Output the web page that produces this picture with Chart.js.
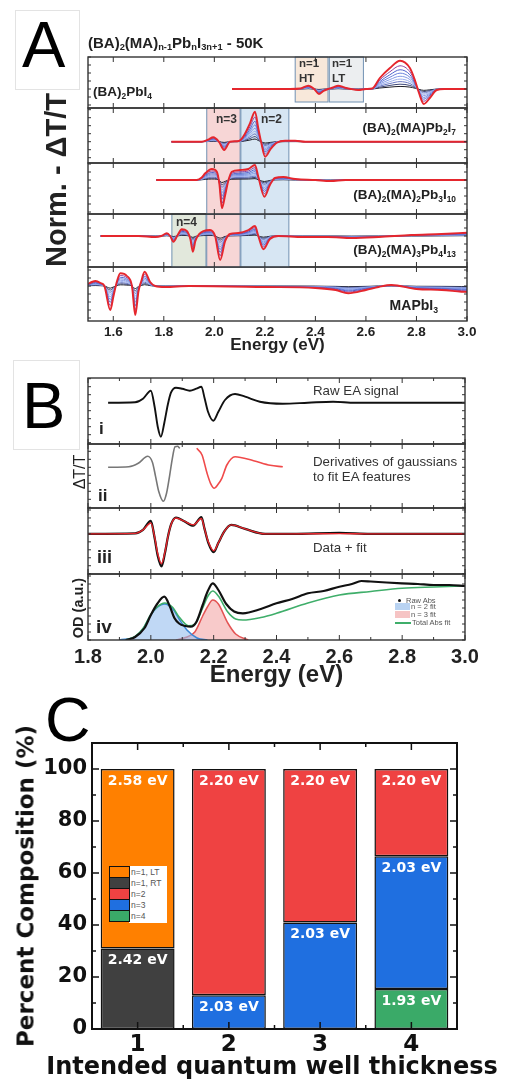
<!DOCTYPE html>
<html>
<head>
<meta charset="utf-8">
<script src="https://cdn.jsdelivr.net/npm/chart.js@4.4.1/dist/chart.umd.min.js"></script>
<style>
  body { margin: 0; background: #fff; }
  #fig { position: relative; width: 506px; height: 1079px; overflow: hidden; font-family: "Liberation Sans", Arial, sans-serif; color: #222; }
  #fig canvas { position: absolute; z-index: 0; }
  .t { position: absolute; z-index: 2; white-space: nowrap; line-height: 1; transform: translateY(-50%); }
  .r { transform: translate(-50%, -50%) rotate(-90deg); }
  .c { transform: translate(-50%, -50%); }
  .t sub { font-size: 62%; vertical-align: -0.3em; line-height: 0; }
  .b { font-weight: bold; }
  .dv { font-family: "DejaVu Sans", sans-serif; font-weight: bold; color: #111; }
  .box { position: absolute; z-index: 1; border: 1px solid #e3e3e3; background: #fff; }
  .letter { position: absolute; z-index: 2; line-height: 1; font-size: 65px; color: #000; }
  .sw { position: absolute; z-index: 3; box-sizing: border-box; }
</style>
</head>
<body>
<div id="fig">
  <div class="box" style="left:15px;top:10px;width:63px;height:78px"></div>
  <div class="letter" style="left:22px;top:12px">A</div>
  <div class="box" style="left:13px;top:360px;width:65px;height:88px"></div>
  <div class="letter" style="left:22px;top:373px">B</div>
  <div class="letter" style="left:45px;top:688px;font-size:63px">C</div>

  <!-- panel A text -->
  <div class="t b" style="left:88px;top:42px;font-size:15px">(BA)<sub>2</sub>(MA)<sub>n-1</sub>Pb<sub>n</sub>I<sub>3n+1</sub> - 50K</div>
  <div class="t b r" style="left:56px;top:180px;font-size:29px">Norm. - ΔT/T</div>
  <div class="t b" style="left:93px;top:92px;font-size:13.5px">(BA)<sub>2</sub>PbI<sub>4</sub></div>
  <div class="t b" style="right:50px;top:128px;font-size:13.5px">(BA)<sub>2</sub>(MA)Pb<sub>2</sub>I<sub>7</sub></div>
  <div class="t b" style="right:50px;top:195px;font-size:13.5px">(BA)<sub>2</sub>(MA)<sub>2</sub>Pb<sub>3</sub>I<sub>10</sub></div>
  <div class="t b" style="right:50px;top:250px;font-size:13.5px">(BA)<sub>2</sub>(MA)<sub>3</sub>Pb<sub>4</sub>I<sub>13</sub></div>
  <div class="t b" style="right:68px;top:305px;font-size:14px">MAPbI<sub>3</sub></div>
  <div class="t b" style="left:299px;top:64px;font-size:11.5px;color:#333">n=1</div>
  <div class="t b" style="left:299px;top:79px;font-size:11.5px;color:#333">HT</div>
  <div class="t b" style="left:332px;top:64px;font-size:11.5px;color:#333">n=1</div>
  <div class="t b" style="left:332px;top:79px;font-size:11.5px;color:#333">LT</div>
  <div class="t b" style="left:216px;top:119px;font-size:12px;color:#333">n=3</div>
  <div class="t b" style="left:261px;top:119px;font-size:12px;color:#333">n=2</div>
  <div class="t b" style="left:176px;top:222px;font-size:12px;color:#333">n=4</div>

  <!-- panel B text -->
  <div class="t" style="left:313px;top:391px;font-size:13.3px;color:#333">Raw EA signal</div>
  <div class="t" style="left:313px;top:462px;font-size:13.3px;color:#333">Derivatives of gaussians</div>
  <div class="t" style="left:313px;top:477px;font-size:13.3px;color:#333">to fit EA features</div>
  <div class="t" style="left:313px;top:548px;font-size:13.3px;color:#333">Data + fit</div>
  <div class="t b" style="left:99px;top:428px;font-size:17px">i</div>
  <div class="t b" style="left:98px;top:495px;font-size:17px">ii</div>
  <div class="t b" style="left:97px;top:557px;font-size:18px">iii</div>
  <div class="t b" style="left:96px;top:626px;font-size:19px">iv</div>
  <div class="t r" style="left:80px;top:472px;font-size:16px">ΔT/T</div>
  <div class="t b r" style="left:78px;top:608px;font-size:14.5px">OD (a.u.)</div>

  <!-- panel B iv legend -->
  <div class="sw" style="left:392px;top:595px;width:63px;height:31px;background:#fff;z-index:1"></div>
  <div class="sw" style="left:398px;top:599px;width:3px;height:3px;border-radius:50%;background:#111"></div>
  <div class="sw" style="left:395px;top:603px;width:15px;height:7px;background:#b9d3f2"></div>
  <div class="sw" style="left:395px;top:611px;width:15px;height:7px;background:#f6c4c4"></div>
  <div class="sw" style="left:395px;top:622px;width:16px;height:1.5px;background:#3fae6a"></div>
  <div class="t" style="left:406px;top:600.5px;font-size:7.5px;color:#555">Raw Abs</div>
  <div class="t" style="left:411px;top:607px;font-size:7.5px;color:#555">n = 2 fit</div>
  <div class="t" style="left:411px;top:614.5px;font-size:7.5px;color:#555">n = 3 fit</div>
  <div class="t" style="left:412px;top:622.5px;font-size:7.5px;color:#555">Total Abs fit</div>

  <!-- panel C titles and legend -->
  <div class="t dv r" style="left:26px;top:886px;font-size:23px">Percent Composition (%)</div>
  <div class="t dv c" style="left:272px;top:1066px;font-size:24px">Intended quantum well thickness</div>
  <div class="sw" style="left:129px;top:866px;width:38px;height:57px;background:#fff"></div>
  <div class="sw" style="left:109px;top:866px;width:21px;height:12px;border:1.5px solid #111;background:#ff8000"></div>
  <div class="sw" style="left:109px;top:877px;width:21px;height:12px;border:1.5px solid #111;background:#404040"></div>
  <div class="sw" style="left:109px;top:888px;width:21px;height:12px;border:1.5px solid #111;background:#ef4242"></div>
  <div class="sw" style="left:109px;top:899px;width:21px;height:12px;border:1.5px solid #111;background:#1f6fe0"></div>
  <div class="sw" style="left:109px;top:910px;width:21px;height:12px;border:1.5px solid #111;background:#3aaa68"></div>
  <div class="t" style="left:131px;top:872px;font-size:8.5px;color:#555;z-index:4">n=1, LT</div>
  <div class="t" style="left:131px;top:883px;font-size:8.5px;color:#555;z-index:4">n=1, RT</div>
  <div class="t" style="left:131px;top:894px;font-size:8.5px;color:#555;z-index:4">n=2</div>
  <div class="t" style="left:131px;top:905px;font-size:8.5px;color:#555;z-index:4">n=3</div>
  <div class="t" style="left:131px;top:916px;font-size:8.5px;color:#555;z-index:4">n=4</div>
</div>

<script>
// ---- A: electroabsorption spectra at 50 K, one row per sample ----
const ticksA = [1.6, 1.8, 2.0, 2.2, 2.4, 2.6, 2.8, 3.0];

const ePbI4 = [2.07, 2.30, 2.34, 2.372, 2.395, 2.414, 2.432, 2.45, 2.47, 2.49, 2.515, 2.54, 2.57, 2.60, 2.625, 2.655, 2.695, 2.735, 2.774, 2.795, 2.81, 2.829, 2.853, 2.88, 2.91, 3.0];
const sPbI4 = [0, 0, 0.5, 3.3, 0, -5, -2, 0, 1.5, 3.3, 1.5, 0, -1, 0, 0.5, 11, 21, 28.3, 21, 8, -4, -15, -9, -1, 0, 0];

const eN2 = [1.83, 1.95, 1.975, 1.996, 2.018, 2.039, 2.062, 2.09, 2.105, 2.12, 2.141, 2.161, 2.174, 2.185, 2.201, 2.223, 2.247, 2.28, 2.32, 2.36, 2.5, 2.7, 3.0];
const sN2 = [0, 0, 2, 4.4, 0, -8.3, 0, 0.5, 2, 7.5, 18.4, 30, 13.4, 0, -15, -7.3, -1, 1, 1, 0, 0, 0, 0];

const eN3 = [1.77, 1.93, 1.95, 1.964, 1.99, 2.01, 2.02, 2.03, 2.043, 2.056, 2.069, 2.102, 2.135, 2.161, 2.174, 2.198, 2.22, 2.24, 2.273, 2.32, 2.4, 2.46, 2.52, 2.7, 3.0];
const sN3 = [0, 0, 2.5, 6.7, 11, 8.3, -4, -28.3, -15, 0, 8.3, 10, 11, 15, 3.3, -16.7, -5, 2, 3, 1, 0, -1, 0, 0, 0];

const eN4 = [1.55, 1.70, 1.766, 1.79, 1.812, 1.825, 1.838, 1.855, 1.871, 1.891, 1.905, 1.915, 1.925, 1.94, 1.957, 1.983, 2.003, 2.023, 2.043, 2.062, 2.095, 2.135, 2.161, 2.174, 2.194, 2.22, 2.253, 2.35, 2.45, 2.544, 2.65, 2.78, 2.9, 3.0];
const sN4 = [0, 0, -1, 0, 2.7, 0, -5.7, 1, 6.7, 5, -3, -15.7, -5, 2, 5, 6, 0, -24, -5, 2, 3, 6, 10, 0, -13.3, -3, 0, -1, -1, -2, -1, 1, 2, 3.3];

const eMA = [1.50, 1.515, 1.53, 1.55, 1.565, 1.588, 1.601, 1.615, 1.628, 1.654, 1.674, 1.687, 1.70, 1.711, 1.724, 1.746, 1.766, 1.806, 1.9, 2.2, 2.4, 2.48, 2.53, 2.6, 2.65, 2.7, 2.8, 2.9, 2.978, 3.0];
const sMA = [2, 4, 5, 3, 0, -24, -10, 5, 12.7, 10, 0, -29, -5, 5, 14.3, 4, 0, -1, 0, -1, -2, -4, -7.3, -4, -1, 1, -3, -4, -5.7, -6];

// relative signal at each applied field, highest field first
const fieldScale = [1, 0.82, 0.68, 0.56, 0.45, 0.35, 0.26, 0.17, 0.09];
const fieldColors = ['#e5262d', '#8e45a0', '#5063cc', '#6a82dc', '#859ae6', '#9db0ee', '#6675c0', '#3e4778', '#1e1e26'];

// shaded exciton windows (eV)
const bandHT = [2.32, 2.45];
const bandLT = [2.455, 2.59];
const bandN4 = [1.832, 1.967];
const bandN3 = [1.97, 2.102];
const bandN2 = [2.105, 2.295];

// ---- B: fitting procedure for the n = 3 film ----
const ticksB = [1.8, 2.0, 2.2, 2.4, 2.6, 2.8, 3.0];

const eRaw = [1.864, 1.95, 1.975, 2.0, 2.012, 2.022, 2.032, 2.043, 2.054, 2.064, 2.08, 2.10, 2.124, 2.145, 2.161, 2.171, 2.182, 2.199, 2.215, 2.236, 2.268, 2.30, 2.347, 2.42, 2.5, 2.58, 2.65, 2.75, 3.0];
const sRaw = [0, 0.5, 4, 12, -4, -24, -34, -20, -2, 10, 15, 14, 12, 14, 16, 4.7, -9, -18, -9, 2.7, 8.7, 6, 1, -1, 0, 1, 0, 0, 0];

const eDgN3 = [1.864, 1.93, 1.96, 1.99, 2.005, 2.015, 2.025, 2.04, 2.05, 2.06, 2.068, 2.077, 2.085, 2.092];
const sDgN3 = [0, 0.5, 4, 11, 5, -9, -24, -34, -26, -8, 8, 20.6, 21, 19];
const eDgN2 = [2.146, 2.163, 2.179, 2.19, 2.202, 2.214, 2.226, 2.242, 2.268, 2.327, 2.38, 2.42];
const sDgN2 = [19, 12.3, -6, -16, -21, -17, -11, 2.3, 10.6, 6.6, 2, 0.5];

const eFit = [1.80, 1.95, 1.975, 2.0, 2.012, 2.022, 2.034, 2.045, 2.055, 2.065, 2.08, 2.105, 2.135, 2.161, 2.171, 2.183, 2.2, 2.215, 2.235, 2.256, 2.3, 2.364, 2.45, 2.6, 2.7, 3.0];
const sData = [0, 0.5, 4, 13, -4, -22, -32.7, -19, -2, 10, 16.3, 13, 8.3, 16.7, 5, -9, -18.3, -9, 3, 9, 5, 0, 0, 1, 0, 0];
const sFit = [0, 0.5, 4, 11, -3, -20, -30, -18, -2, 10, 16, 13, 9, 15.5, 5, -8, -17, -9, 3, 9, 5, 0, 0, 0.3, 0, 0];

const eAbs = [1.92, 1.95, 1.98, 2.0, 2.02, 2.043, 2.06, 2.075, 2.09, 2.11, 2.127, 2.145, 2.165, 2.18, 2.197, 2.215, 2.24, 2.265, 2.293, 2.35, 2.4, 2.45, 2.5, 2.55, 2.6, 2.64, 2.67, 2.7, 2.75, 2.8, 2.85, 2.9, 2.95, 3.0];
const odAbs = [0, 3, 12, 25, 36, 43.3, 34, 22, 16.5, 14, 13.3, 18, 35, 48, 56.7, 50, 36, 28.5, 26.7, 31, 36.7, 41, 46.7, 49, 53.3, 56, 59, 58.5, 57.5, 56.7, 56, 55, 55, 54];
const eG2 = [1.90, 1.95, 1.975, 2.0, 2.02, 2.044, 2.07, 2.09, 2.115, 2.147, 2.18];
const odG2 = [0, 3.3, 11, 25, 32.5, 36, 31, 21, 10, 2, 0];
const eG3 = [2.08, 2.11, 2.14, 2.165, 2.18, 2.197, 2.215, 2.245, 2.27, 2.31];
const odG3 = [0, 2.5, 8, 24, 33, 40, 36, 17, 6, 0];
const eTot = [1.92, 1.95, 1.975, 2.0, 2.02, 2.044, 2.07, 2.09, 2.12, 2.14, 2.165, 2.18, 2.197, 2.215, 2.245, 2.27, 2.293, 2.35, 2.4, 2.5, 2.6, 2.7, 2.8, 2.9, 3.0];
const odTot = [0, 3.5, 11.5, 25.5, 33, 37, 32.5, 23, 14.3, 16, 32, 43, 49, 44, 28, 21, 20, 22.5, 26.7, 37, 45, 48.5, 51.7, 53, 54];

// ---- C: phase composition per film ----
const wells = ['1', '2', '3', '4'];
const percentTicks = [0, 20, 40, 60, 80, 100];
const shareRT = [31, 0, 0, 0];
const shareN4 = [0, 0, 0, 15.4];
const shareN3 = [0, 13, 41, 51];
const shareN2 = [0, 87, 59, 33.6];
const shareLT = [69, 0, 0, 0];
const peakEnergy = [2.42, 1.93, 2.03, 2.20, 2.58]; // same order as the datasets below

// ------------------------------------------------------------------
Chart.defaults.font.family = '"Liberation Sans", Arial, sans-serif';
Chart.defaults.color = '#222';

const fig = document.getElementById('fig');
const W = 506;

function addCanvas(top, height) {
  const c = document.createElement('canvas');
  c.width = W;
  c.height = height;
  c.style.left = '0px';
  c.style.top = top + 'px';
  fig.prepend(c);
  return c;
}

const pts = (E, S, k = 1) => E.map((e, i) => ({ x: e, y: S[i] * k }));

function steps(from, to, step) {
  const out = [];
  for (let v = from; v <= to + 1e-9; v += step) out.push(+v.toFixed(4));
  return out;
}

// boxed frame with inward ticks on all four sides
const framePlugin = {
  id: 'frame',
  afterDatasetsDraw(chart, args, o) {
    const { ctx, chartArea: a, scales: { x, y } } = chart;
    ctx.save();
    ctx.strokeStyle = o.color;
    ctx.lineWidth = o.tickWidth;
    ctx.beginPath();
    const vx = (v, len) => {
      const p = x.getPixelForValue(v);
      ctx.moveTo(p, a.top); ctx.lineTo(p, a.top + len);
      ctx.moveTo(p, a.bottom); ctx.lineTo(p, a.bottom - len);
    };
    const vy = (v, len) => {
      const p = y.getPixelForValue(v);
      ctx.moveTo(a.left, p); ctx.lineTo(a.left + len, p);
      ctx.moveTo(a.right, p); ctx.lineTo(a.right - len, p);
    };
    (o.xMajor || []).forEach(v => vx(v, o.major));
    (o.xMinor || []).forEach(v => vx(v, o.minor));
    (o.yMajor || []).forEach(v => vy(v, o.major));
    (o.yMinor || []).forEach(v => vy(v, o.minor));
    ctx.stroke();
    ctx.lineWidth = o.lineWidth;
    ctx.strokeRect(a.left, a.top, a.width, a.height);
    ctx.restore();
  }
};

// shaded energy windows behind the traces
const bandPlugin = {
  id: 'bands',
  beforeDatasetsDraw(chart, args, o) {
    const { ctx, chartArea: a, scales: { x, y } } = chart;
    ctx.save();
    for (const b of o.list || []) {
      const x0 = x.getPixelForValue(b.range[0]);
      const x1 = x.getPixelForValue(b.range[1]);
      const y1 = b.floor === undefined ? a.bottom : y.getPixelForValue(b.floor);
      ctx.fillStyle = b.fill;
      ctx.fillRect(x0, a.top, x1 - x0, y1 - a.top);
      ctx.strokeStyle = '#7191b2';
      ctx.lineWidth = 1;
      ctx.strokeRect(x0, a.top, x1 - x0, y1 - a.top);
    }
    ctx.restore();
  }
};

function family(E, S) {
  return fieldScale.map((k, i) => ({
    data: pts(E, S, k),
    borderColor: fieldColors[i],
    borderWidth: i === 0 ? 1.9 : 1
  }));
}

function bottomAxis(ticks, min, max, h, tickSize, titleSize, pad) {
  return {
    type: 'linear', min, max,
    afterBuildTicks: s => { s.ticks = ticks.map(v => ({ value: v })); },
    afterFit: s => { s.height = h; },
    grid: { display: false, drawTicks: false },
    border: { display: false },
    ticks: { font: { weight: 'bold', size: tickSize }, color: '#222', padding: pad, autoSkip: false, maxRotation: 0, callback: v => v.toFixed(1) },
    title: { display: true, text: 'Energy (eV)', font: { weight: 'bold', size: titleSize }, color: '#222', padding: 0 }
  };
}

function row({ top, bottom, left, right, xMin, xMax, yMin, yMax, datasets, bands, xTicks, axis }) {
  const pad = 4;
  const axisH = axis ? axis.height : 0;
  const c = addCanvas(top - pad, bottom - top + pad + (axis ? axisH : pad));
  return new Chart(c, {
    type: 'line',
    data: { datasets },
    options: {
      responsive: false,
      animation: false,
      events: [],
      devicePixelRatio: 1,
      layout: { padding: { left, right: W - right, top: pad, bottom: axis ? 0 : pad } },
      elements: { point: { radius: 0 }, line: { cubicInterpolationMode: 'monotone', fill: false } },
      scales: {
        x: axis ? bottomAxis(xTicks, xMin, xMax, axisH, axis.tick, axis.title, axis.pad)
                : { type: 'linear', min: xMin, max: xMax, display: false },
        y: { min: yMin, max: yMax, display: false }
      },
      plugins: {
        legend: { display: false },
        tooltip: { enabled: false },
        bands: { list: bands || [] },
        frame: {
          xMajor: xTicks, xMinor: steps(xMin + 0.1, xMax - 0.1, 0.2).filter(v => !xTicks.includes(v)),
          yMinor: steps(0, yMax, 8).concat(steps(8, -yMin, 8).map(v => -v)),
          major: 5, minor: 3, tickWidth: 1, lineWidth: 1.4, color: '#333'
        }
      }
    },
    plugins: [bandPlugin, framePlugin]
  });
}

// ---- A ----
const A = { left: 88, right: 467, xMin: 1.5, xMax: 3.0, xTicks: ticksA };
row({ ...A, top: 57, bottom: 108, yMin: -19, yMax: 32, datasets: family(ePbI4, sPbI4),
  bands: [{ range: bandHT, fill: '#f8e8da', floor: -13 }, { range: bandLT, fill: '#eceef0', floor: -13 }] });
row({ ...A, top: 108, bottom: 163, yMin: -21.3, yMax: 33.7, datasets: family(eN2, sN2),
  bands: [{ range: bandN3, fill: '#f7d6d6' }, { range: bandN2, fill: '#d7e6f3' }] });
row({ ...A, top: 163, bottom: 214, yMin: -34, yMax: 17, datasets: family(eN3, sN3),
  bands: [{ range: bandN3, fill: '#f7d6d6' }, { range: bandN2, fill: '#d7e6f3' }] });
row({ ...A, top: 214, bottom: 267, yMin: -31, yMax: 22, datasets: family(eN4, sN4),
  bands: [{ range: bandN4, fill: '#e2e8dc' }, { range: bandN3, fill: '#f7d6d6' }, { range: bandN2, fill: '#d7e6f3' }] });
row({ ...A, top: 267, bottom: 321, yMin: -35, yMax: 19, datasets: family(eMA, sMA),
  axis: { height: 35, tick: 13.5, title: 17, pad: 3 } });

// ---- B ----
const B = { left: 88, right: 465, xMin: 1.8, xMax: 3.0, xTicks: ticksB };
row({ ...B, top: 378, bottom: 444, yMin: -41.3, yMax: 24.7,
  datasets: [{ data: pts(eRaw, sRaw), borderColor: '#111', borderWidth: 1.9 }] });
row({ ...B, top: 444, bottom: 508, yMin: -40.7, yMax: 23.3,
  datasets: [
    { data: pts(eDgN3, sDgN3), borderColor: '#777', borderWidth: 1.6 },
    { data: pts(eDgN2, sDgN2), borderColor: '#f04a4a', borderWidth: 1.6 }
  ] });
row({ ...B, top: 508, bottom: 574, yMin: -40.3, yMax: 26,
  datasets: [
    { data: pts(eFit, sFit), borderColor: '#e8262c', borderWidth: 1.4 },
    { data: pts(eFit, sData), borderColor: '#111', borderWidth: 2.3 }
  ] });
row({ ...B, top: 574, bottom: 640, yMin: 0, yMax: 66,
  datasets: [
    { data: pts(eAbs, odAbs), borderColor: '#111', borderWidth: 2.2 },
    { data: pts(eTot, odTot), borderColor: '#3fae6a', borderWidth: 1.6 },
    { data: pts(eG2, odG2), borderColor: '#3a86d6', borderWidth: 1.5, fill: 'origin', backgroundColor: 'rgba(150,190,238,0.6)' },
    { data: pts(eG3, odG3), borderColor: '#e45454', borderWidth: 1.5, fill: 'origin', backgroundColor: 'rgba(242,150,150,0.5)' }
  ],
  axis: { height: 50, tick: 20, title: 24, pad: 5 } });

// ---- C ----
const dejavu = (size) => ({ family: '"DejaVu Sans", sans-serif', weight: 'bold', size });

const barLabels = {
  id: 'barLabels',
  afterDatasetsDraw(chart) {
    const { ctx } = chart;
    ctx.save();
    ctx.font = 'bold 14px "DejaVu Sans"';
    ctx.fillStyle = '#fff';
    ctx.textAlign = 'center';
    ctx.textBaseline = 'middle';
    chart.data.datasets.forEach((ds, i) => {
      chart.getDatasetMeta(i).data.forEach((bar, j) => {
        if (!ds.data[j]) return;
        ctx.fillText(peakEnergy[i].toFixed(2) + ' eV', bar.x, bar.y + 12);
      });
    });
    ctx.restore();
  }
};

const cTop = 690;
new Chart(addCanvas(cTop, 1079 - cTop), {
  type: 'bar',
  data: {
    labels: wells,
    datasets: [
      { label: 'n=1, RT', data: shareRT, backgroundColor: '#404040' },
      { label: 'n=4', data: shareN4, backgroundColor: '#3aaa68' },
      { label: 'n=3', data: shareN3, backgroundColor: '#1f6fe0' },
      { label: 'n=2', data: shareN2, backgroundColor: '#ef4242' },
      { label: 'n=1, LT', data: shareLT, backgroundColor: '#ff8000' }
    ]
  },
  options: {
    responsive: false,
    animation: false,
    events: [],
    devicePixelRatio: 1,
    layout: { padding: { left: 0, right: W - 457, top: 743 - cTop, bottom: 0 } },
    datasets: { bar: { barPercentage: 0.81, categoryPercentage: 1, borderColor: '#111', borderWidth: 1.5, borderSkipped: false } },
    scales: {
      x: {
        stacked: true,
        afterFit: s => { s.height = 50; },
        grid: { display: false, drawTicks: false },
        border: { display: false },
        ticks: { font: dejavu(23), color: '#111', padding: 2 }
      },
      y: {
        stacked: true, min: 0, max: 110,
        afterBuildTicks: s => { s.ticks = percentTicks.map(v => ({ value: v })); },
        afterFit: s => { s.width = 92; },
        grid: { display: false, drawTicks: false },
        border: { display: false },
        ticks: { font: dejavu(21), color: '#111', padding: 5 }
      }
    },
    plugins: {
      legend: { display: false },
      tooltip: { enabled: false },
      frame: {
        xMajor: [0, 1, 2, 3], xMinor: [0.5, 1.5, 2.5],
        yMajor: percentTicks, yMinor: [10, 30, 50, 70, 90],
        major: 7, minor: 4, tickWidth: 1.5, lineWidth: 2, color: '#111'
      }
    }
  },
  plugins: [framePlugin, barLabels]
});
</script>
</body>
</html>
